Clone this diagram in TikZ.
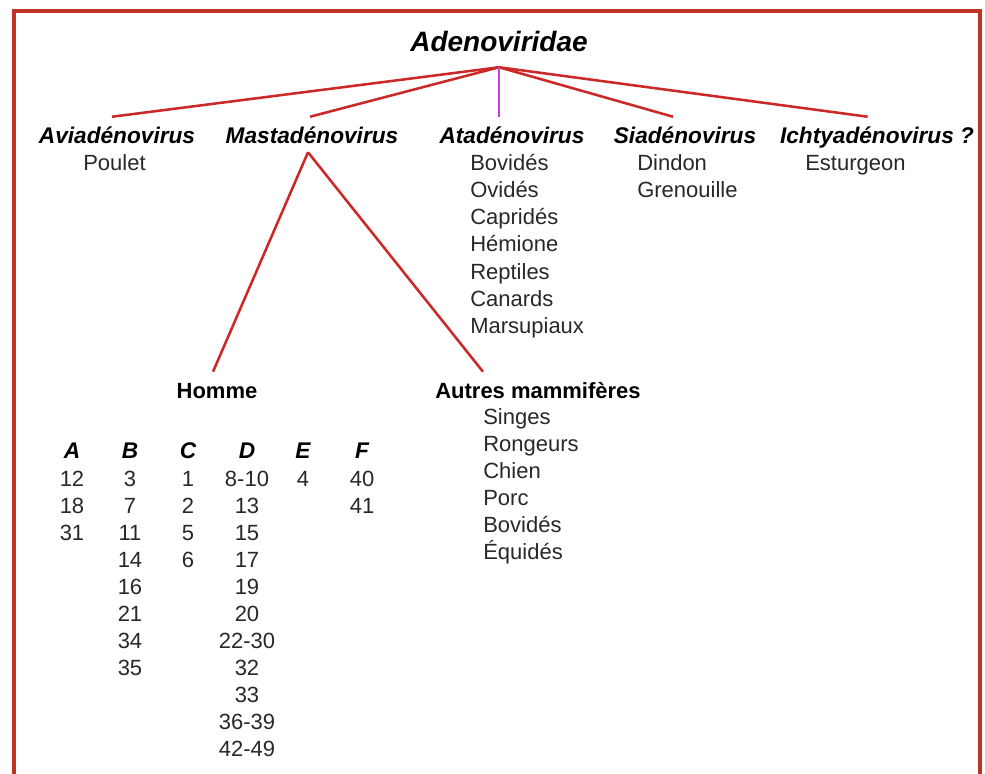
\documentclass[tikz,border=0pt]{standalone}
\usepackage{fontspec}
\setmainfont{Liberation Sans}
\usepackage{tikz}
\definecolor{framered}{RGB}{192,52,40}
\definecolor{linered}{RGB}{205,40,40}
\definecolor{atamag}{RGB}{205,60,215}
\definecolor{txt}{RGB}{40,40,40}

\begin{document}
\begin{tikzpicture}[x=0.75pt,y=-0.75pt]
		\tikzstyle{family}=[font=\fontsize{21}{24}\selectfont\bfseries\itshape,inner sep=0pt,text depth=11.25pt,anchor=base]
		\tikzstyle{genus}=[font=\fontsize{17}{20}\selectfont\bfseries\itshape,inner sep=0pt,text height=19.5pt,text depth=6.75pt,anchor=base]
		\tikzstyle{host}=[font=\fontsize{16.5}{20}\selectfont\bfseries,inner sep=0pt,text height=19.5pt,text depth=6.75pt,anchor=base]
		\tikzstyle{item}=[font=\fontsize{16.5}{20}\selectfont,text=txt,inner sep=0pt,anchor=base west]
		\tikzstyle{num}=[font=\fontsize{16.5}{20}\selectfont,text=txt,inner sep=0pt,anchor=base]
		\tikzstyle{branch}=[draw=linered,line width=1.9pt]
		%\tikzstyle{branch}=[draw=red,line width=1pt]
		
		\useasboundingbox (0,0) rectangle (985,774);
		\draw[framered,line width=3pt] (14,778) rectangle (980,11);
		
		\node[family](adeno) at (499,52){Adenoviridae};
		
		\node[genus](avia) at (117,143){Aviadénovirus};
		\node[genus](mast) at (312,143){Mastadénovirus};
		\node[genus](ata) at (512,143){Atadénovirus};
		\node[genus](sia) at (685,143){Siadénovirus};
		\node[genus](ichty) at (877,143){Ichtyadénovirus ?};
		
		\node[item](poulet) at (83,170){Poulet};
		
		\node[item](ata1) at (470,170){Bovidés};
		\node[item](ata2) at (470,197.3){Ovidés};
		\node[item](ata3) at (470,224.6){Capridés};
		\node[item](ata4) at (470,251.9){Hémione};
		\node[item](ata5) at (470,279.2){Reptiles};
		\node[item](ata6) at (470,306.5){Canards};
		\node[item](ata7) at (470,333.8){Marsupiaux};
		
		\node[item](sia1) at (637,170){Dindon};
		\node[item](sia2) at (637,197.3){Grenouille};
		
		\node[item](ichty1) at (805,170){Esturgeon};
		
		\node[host](homme) at (217,398){Homme};
		\node[host](autres) at (538,398){Autres mammifères};
		
		\node[item](am1) at (483,424){Singes};
		\node[item](am2) at (483,451){Rongeurs};
		\node[item](am3) at (483,478){Chien};
		\node[item](am4) at (483,505){Porc};
		\node[item](am5) at (483,532){Bovidés};
		\node[item](am6) at (483,559){Équidés};
		
		\node[genus](hA) at (72,458){A};
		\node[genus](hB) at (130,458){B};
		\node[genus](hC) at (188,458){C};
		\node[genus](hD) at (247,458){D};
		\node[genus](hE) at (303,458){E};
		\node[genus](hF) at (362,458){F};
		
		\node[num](a1) at (72,486){12};
		\node[num](a2) at (72,513){18};
		\node[num](a3) at (72,540){31};
		
		\node[num](b1) at (130,486){3};
		\node[num](b2) at (130,513){7};
		\node[num](b3) at (130,540){11};
		\node[num](b4) at (130,567){14};
		\node[num](b5) at (130,594){16};
		\node[num](b6) at (130,621){21};
		\node[num](b7) at (130,648){34};
		\node[num](b8) at (130,675){35};
		
		\node[num](c1) at (188,486){1};
		\node[num](c2) at (188,513){2};
		\node[num](c3) at (188,540){5};
		\node[num](c4) at (188,567){6};
		
		\node[num](d1) at (247,486){8-10};
		\node[num](d2) at (247,513){13};
		\node[num](d3) at (247,540){15};
		\node[num](d4) at (247,567){17};
		\node[num](d5) at (247,594){19};
		\node[num](d6) at (247,621){20};
		\node[num](d7) at (247,648){22-30};
		\node[num](d8) at (247,675){32};
		\node[num](d9) at (247,702){33};
		\node[num](d10) at (247,729){36-39};
		\node[num](d11) at (247,756){42-49};
		
		\node[num](e1) at (303,486){4};
		
		\node[num](f1) at (362,486){40};
		\node[num](f2) at (362,513){41};
		
		\draw[branch] (adeno.south) -- ([xshift=-3.75pt]avia.north);
		\draw[branch] (adeno.south) -- ([xshift=-1.5pt]mast.north);
		\draw[branch] (adeno.south) -- ([xshift=-9pt]sia.north);
		\draw[branch] (adeno.south) -- ([xshift=-7pt]ichty.north);
		\draw[draw=atamag,line width=2pt] (adeno.south) -- (adeno.south |- ata.north);
		
		\draw[branch] ([xshift=-3pt]mast.south) -- ([xshift=-3pt]homme.north);
		\draw[branch] ([xshift=-3pt]mast.south) -- (autres.north -| am1.west);
\end{tikzpicture}
\end{document}
